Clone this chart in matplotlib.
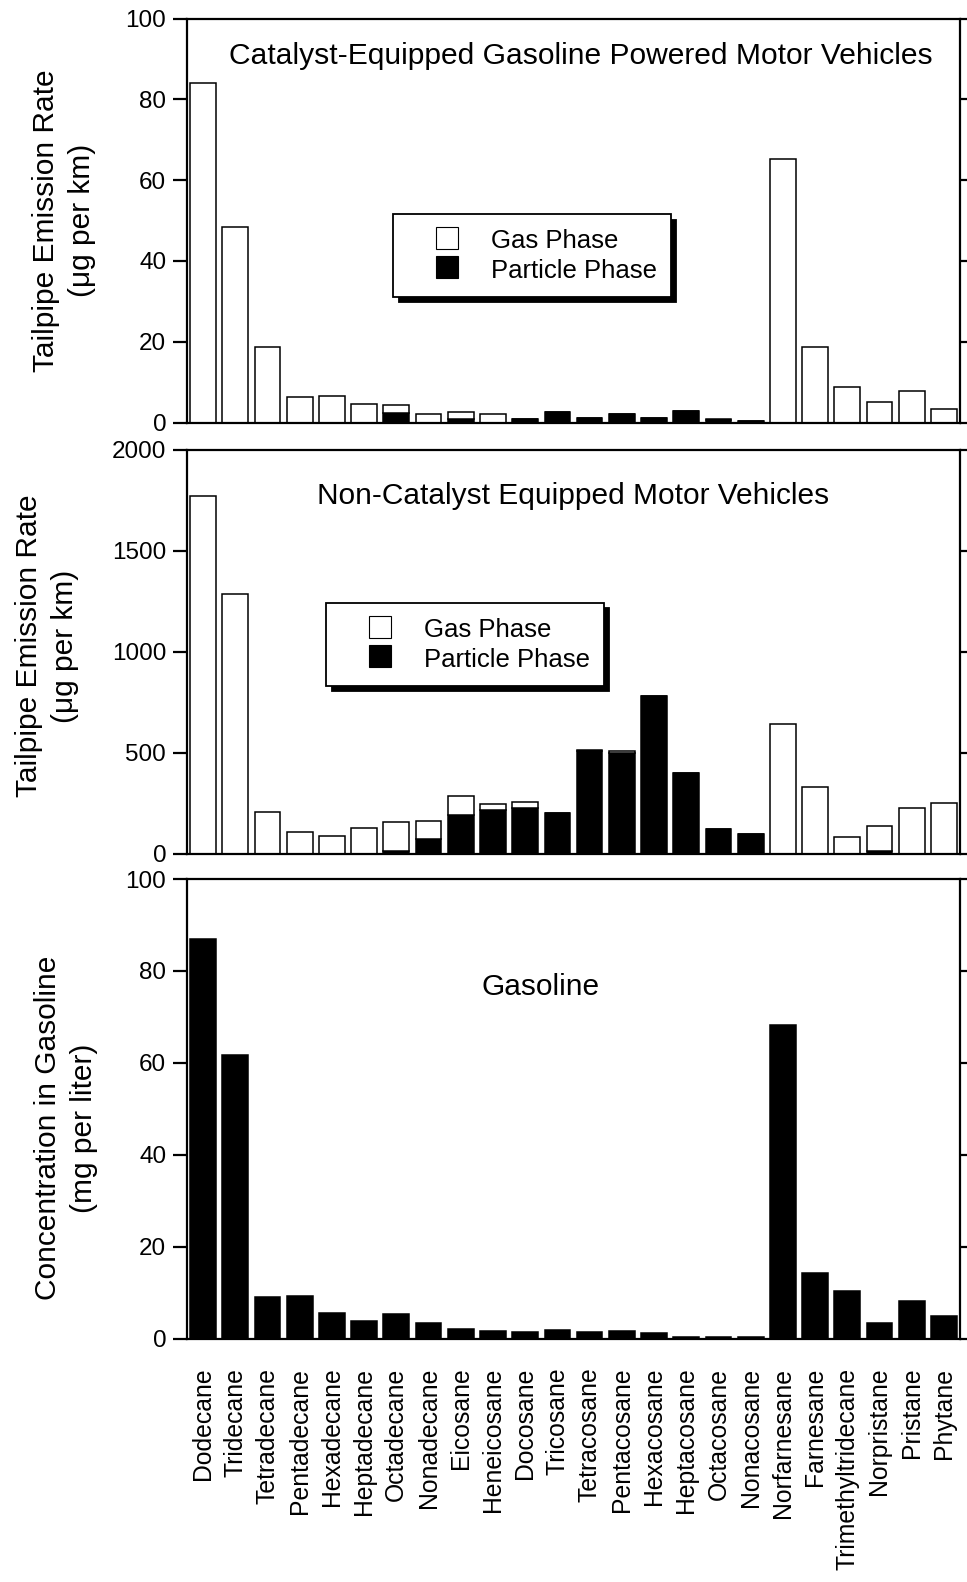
import matplotlib
matplotlib.use("Agg")
import matplotlib.pyplot as plt
from matplotlib.lines import Line2D
import numpy as np

plt.rcParams['font.family'] = ['Liberation Sans', 'DejaVu Sans']

compounds = ["Dodecane", "Tridecane", "Tetradecane", "Pentadecane", "Hexadecane",
             "Heptadecane", "Octadecane", "Nonadecane", "Eicosane", "Heneicosane",
             "Docosane", "Tricosane", "Tetracosane", "Pentacosane", "Hexacosane",
             "Heptacosane", "Octacosane", "Nonacosane", "Norfarnesane", "Farnesane",
             "Trimethyltridecane", "Norpristane", "Pristane", "Phytane"]

# Catalyst-equipped gasoline vehicles (ug per km)
cat_particle = [0, 0, 0, 0, 0, 0, 2.3, 0, 0.8, 0, 0.8, 2.5, 1.0, 2.0, 1.0, 2.8, 0.7, 0.3,
                0, 0, 0, 0, 0, 0]
cat_gas = [84.0, 48.3, 18.6, 6.4, 6.6, 4.5, 2.0, 2.1, 1.8, 2.1, 0, 0, 0.1, 0.1, 0.1, 0, 0.1, 0.1,
           65.2, 18.8, 8.9, 5.0, 7.9, 3.3]

# Non-catalyst vehicles (ug per km)
noncat_particle = [0, 0, 0, 0, 0, 0, 10, 70, 191, 216, 224, 203, 508, 498, 779, 398, 122, 95,
                   0, 0, 0, 12, 0, 0]
noncat_gas = [1772, 1288, 208, 105, 87, 125, 148, 93, 96, 28, 32, 0, 4, 8, 0, 0, 0, 0,
              642, 332, 80, 125, 224, 252]

# Concentration in gasoline (mg per liter)
gasoline = [87.0, 61.7, 9.0, 9.2, 5.5, 3.9, 5.3, 3.4, 2.1, 1.6, 1.4, 1.9, 1.5, 1.6, 1.2,
            0.4, 0.3, 0.3, 68.2, 14.2, 10.3, 3.3, 8.2, 5.0]

x = np.arange(len(compounds))
W = 967
H = 1582
fig = plt.figure(figsize=(W / 100, H / 100), dpi=100)


def make_axes(top_px, bottom_px):
    left = 187 / W
    width = 773 / W
    return fig.add_axes([left, 1 - bottom_px / H, width, (bottom_px - top_px) / H])


ax1 = make_axes(18.5, 422.5)
ax2 = make_axes(450, 853.5)
ax3 = make_axes(879, 1338.5)

bw = 0.8
edge = dict(edgecolor='black', linewidth=1.1)

# stacked: particle phase at bottom, gas phase above
ax1.bar(x, cat_particle, bw, color='black', **edge)
ax1.bar(x, cat_gas, bw, bottom=cat_particle, color='white', **edge)
ax2.bar(x, noncat_particle, bw, color='black', **edge)
ax2.bar(x, noncat_gas, bw, bottom=noncat_particle, color='white', **edge)
ax3.bar(x, gasoline, bw, color='black', **edge)

ax1.set_ylim(0, 100)
ax1.set_yticks([0, 20, 40, 60, 80, 100])
ax2.set_ylim(0, 2000)
ax2.set_yticks([0, 500, 1000, 1500, 2000])
ax3.set_ylim(0, 100)
ax3.set_yticks([0, 20, 40, 60, 80, 100])

for ax in (ax1, ax2, ax3):
    ax.set_xlim(-0.5, len(compounds) - 0.5)
    for s in ax.spines.values():
        s.set_linewidth(1.6)
    ax.tick_params(axis='y', which='both', direction='out', length=10, width=1.6,
                   labelsize=17.5, pad=5, right=True, labelright=False)
    ax.tick_params(axis='x', length=0)

ax1.set_xticks([])
ax2.set_xticks([])
ax3.set_xticks(x)
ax3.set_xticklabels(compounds, rotation=90, fontsize=17.8, va='top', ha='center')
ax3.tick_params(axis='x', pad=21)

ylab_kw = dict(fontsize=21.5, linespacing=1.35)
ax1.set_ylabel("Tailpipe Emission Rate\n(\u03bcg per km)", **ylab_kw)
ax1.yaxis.set_label_coords(-0.118, 0.5)
ax2.set_ylabel("Tailpipe Emission Rate\n(\u03bcg per km)", **ylab_kw)
ax2.yaxis.set_label_coords(-0.14, 0.514)
ax3.set_ylabel("Concentration in Gasoline\n(mg per liter)", **ylab_kw)
ax3.yaxis.set_label_coords(-0.115, 0.458)

ax1.text(0.51, 0.908, "Catalyst-Equipped Gasoline Powered Motor Vehicles",
         transform=ax1.transAxes, ha='center', va='center', fontsize=21.6)
ax2.text(0.4994, 0.886, "Non-Catalyst Equipped Motor Vehicles",
         transform=ax2.transAxes, ha='center', va='center', fontsize=21.5)
ax3.text(0.457, 0.765, "Gasoline",
         transform=ax3.transAxes, ha='center', va='center', fontsize=21.5)

handles = [Line2D([], [], linestyle='none', marker='s', markersize=16.5,
                  markerfacecolor='white', markeredgecolor='black', markeredgewidth=0.8,
                  label='Gas Phase'),
           Line2D([], [], linestyle='none', marker='s', markersize=16.5,
                  markerfacecolor='black', markeredgecolor='black', markeredgewidth=0.8,
                  label='Particle Phase')]

for ax, anchor in ((ax1, (0.2665, 0.516)), (ax2, (0.18, 0.621))):
    leg = ax.legend(handles=handles, loc='upper left', bbox_to_anchor=anchor,
                    fontsize=18.5, frameon=True, fancybox=False, framealpha=1,
                    edgecolor='black', handlelength=3.1, handleheight=1.0,
                    handletextpad=0.15, borderpad=0.55, labelspacing=0.15,
                    borderaxespad=0, numpoints=1,
                    shadow={'color': 'black', 'alpha': 1, 'ox': 4, 'oy': -4})
    leg.get_frame().set_linewidth(1.3)

fig.savefig("out.png", dpi=100)
